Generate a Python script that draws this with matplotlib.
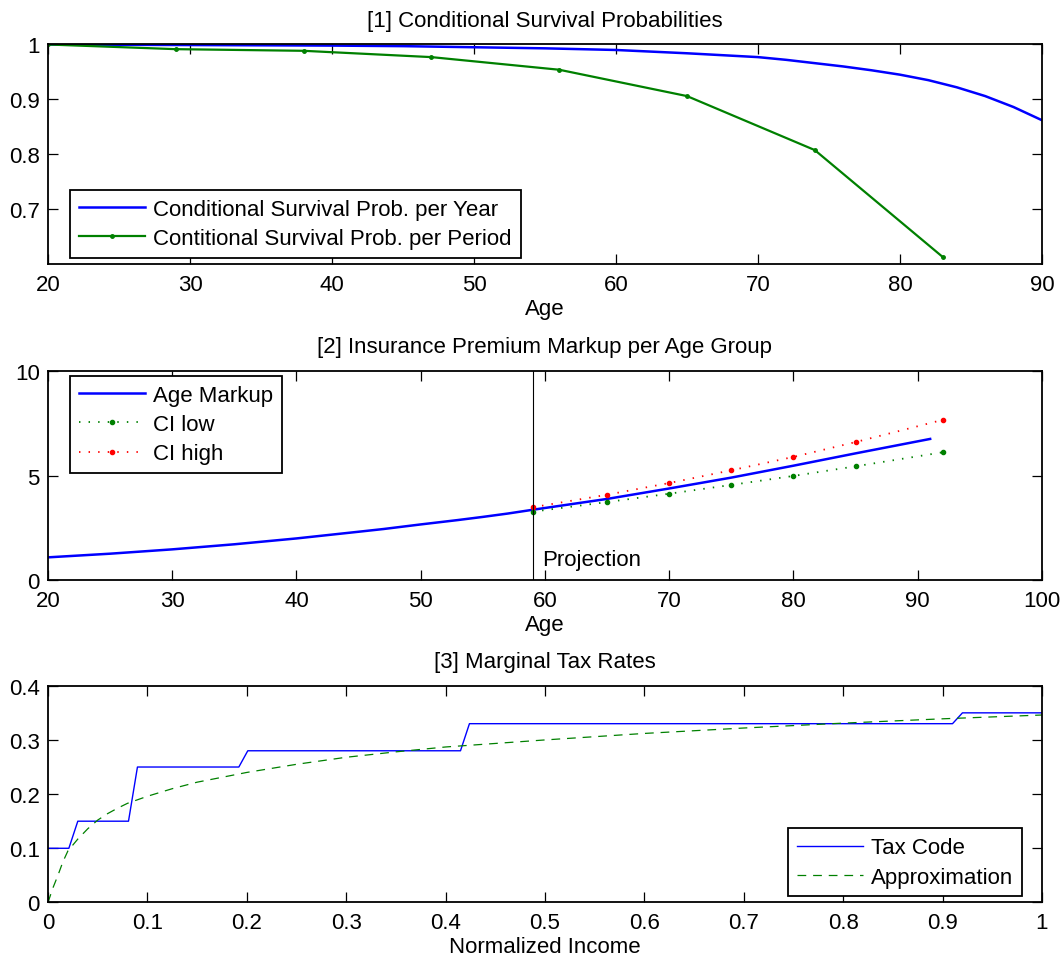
import matplotlib
matplotlib.use("Agg")
import matplotlib.pyplot as plt

# [1] survival probabilities
ages_year = [20, 25, 30, 35, 40, 45, 50, 55, 60, 65, 70, 72, 74, 76, 78, 80,
             82, 84, 86, 88, 90]
surv_year = [1.0, 0.9995, 0.999, 0.9985, 0.998, 0.997, 0.995, 0.993, 0.990,
             0.984, 0.977, 0.972, 0.966, 0.960, 0.953, 0.945, 0.935, 0.922,
             0.906, 0.886, 0.862]
ages_period = [20, 29, 38, 47, 56, 65, 74, 83]
surv_period = [1.0, 0.9915, 0.9885, 0.977, 0.954, 0.906, 0.8076, 0.613]

# [2] premium markup
ages_markup = [20, 25, 30, 35, 40, 45, 47, 50, 53, 55, 57, 59, 65, 70, 75,
               80, 85, 91]
markup = [1.085, 1.26, 1.467, 1.71, 1.99, 2.31, 2.44, 2.66, 2.87, 3.02, 3.18,
          3.36, 3.88, 4.38, 4.90, 5.47, 6.06, 6.75]
ages_ci = [59, 65, 70, 75, 80, 85, 92]
ci_low = [3.27, 3.73, 4.13, 4.55, 4.98, 5.44, 6.11]
ci_high = [3.48, 4.08, 4.64, 5.25, 5.89, 6.60, 7.66]
projection_start = 59

# [3] marginal tax rates
tax_x = [0, 0.021, 0.030, 0.081, 0.090, 0.192, 0.201, 0.415, 0.424, 0.910, 0.920, 1.0]
tax_y = [0.1, 0.1, 0.15, 0.15, 0.25, 0.25, 0.28, 0.28, 0.33, 0.33, 0.35, 0.35]
approx_x = [0, 0.005, 0.01, 0.015, 0.02, 0.03, 0.04, 0.05, 0.06, 0.07, 0.08, 0.1,
            0.125, 0.15, 0.2, 0.25, 0.3, 0.35, 0.4, 0.5, 0.6, 0.7, 0.8, 0.9, 1.0]
approx_y = [0, 0.027, 0.05, 0.075, 0.095, 0.117, 0.136, 0.152, 0.164, 0.174, 0.183,
            0.196, 0.21, 0.222, 0.24, 0.255, 0.268, 0.278, 0.287, 0.300, 0.312,
            0.322, 0.331, 0.339, 0.346]

# ticks
ticks1_x = [20, 30, 40, 50, 60, 70, 80, 90]
ticks1_y = [0.7, 0.8, 0.9, 1.0]
labels1_y = ["0.7", "0.8", "0.9", "1"]
ticks2_x = [20, 30, 40, 50, 60, 70, 80, 90, 100]
ticks2_y = [0, 5, 10]
ticks3_x = [0, 0.1, 0.2, 0.3, 0.4, 0.5, 0.6, 0.7, 0.8, 0.9, 1.0]
labels3_x = ["0", "0.1", "0.2", "0.3", "0.4", "0.5", "0.6", "0.7", "0.8", "0.9", "1"]
ticks3_y = [0, 0.1, 0.2, 0.3, 0.4]
labels3_y = ["0", "0.1", "0.2", "0.3", "0.4"]

plt.rcParams["font.family"] = ["Liberation Sans", "DejaVu Sans"]
plt.rcParams["font.size"] = 16
plt.rcParams["axes.linewidth"] = 1.3

blue = (0, 0, 1)
green = (0, 0.5, 0)
red = (1, 0, 0)

fig = plt.figure(figsize=(10.64, 9.70), dpi=100)
ax1 = fig.add_axes([0.0451, 0.7268, 0.9342, 0.2263])
ax2 = fig.add_axes([0.0451, 0.4010, 0.9342, 0.2155])
ax3 = fig.add_axes([0.0451, 0.0686, 0.9342, 0.2234])


def style(ax):
    ax.tick_params(direction="in", top=True, right=True, length=7, width=0.9)
    ax.tick_params(axis="x", pad=7)
    ax.tick_params(axis="y", pad=6)


def legend(ax, loc, anchor):
    leg = ax.legend(loc=loc, bbox_to_anchor=anchor, borderaxespad=0,
                    fancybox=False, framealpha=1, edgecolor="black",
                    handlelength=3.0, handletextpad=0.35, borderpad=0.4,
                    labelspacing=0.37, fontsize=16)
    leg.get_frame().set_linewidth(1.3)
    return leg


# [1]
ax1.plot(ages_year, surv_year, color=blue, lw=1.8,
         label="Conditional Survival Prob. per Year")
ax1.plot(ages_period, surv_period, ".-", color=green, lw=1.6, ms=5,
         label="Contitional Survival Prob. per Period")
ax1.set_xlim(20, 90)
ax1.set_ylim(0.6, 1.0)
ax1.set_xticks(ticks1_x)
ax1.set_yticks(ticks1_y)
ax1.set_yticklabels(labels1_y)
ax1.set_title("[1] Conditional Survival Probabilities", fontsize=16, pad=13.5)
ax1.set_xlabel("Age", labelpad=2)
style(ax1)
legend(ax1, "lower left", (0.022, 0.027))

# [2]
ax2.plot(ages_markup, markup, color=blue, lw=1.8, label="Age Markup")
ax2.plot(ages_ci, ci_low, marker=".", ms=6, color=green, lw=1.3,
         linestyle=(0, (0.8, 4.5)), label="CI low")
ax2.plot(ages_ci, ci_high, marker=".", ms=6, color=red, lw=1.3,
         linestyle=(0, (0.8, 4.5)), label="CI high")
ax2.axvline(projection_start, color="black", lw=0.8)
ax2.text(projection_start + 0.8, 1.0, "Projection", va="center", ha="left")
ax2.set_xlim(20, 100)
ax2.set_ylim(0, 10)
ax2.set_xticks(ticks2_x)
ax2.set_yticks(ticks2_y)
ax2.set_title("[2] Insurance Premium Markup per Age Group", fontsize=16, pad=13.5)
ax2.set_xlabel("Age", labelpad=2)
style(ax2)
legend(ax2, "upper left", (0.022, 0.976))

# [3]
ax3.plot(tax_x, tax_y, color=blue, lw=1.0, label="Tax Code")
ax3.plot(approx_x, approx_y, color=green, lw=0.9, linestyle=(0, (7, 5.5)),
         label="Approximation")
ax3.set_xlim(0, 1)
ax3.set_ylim(0, 0.4)
ax3.set_xticks(ticks3_x)
ax3.set_xticklabels(labels3_x)
ax3.set_yticks(ticks3_y)
ax3.set_yticklabels(labels3_y)
ax3.set_title("[3] Marginal Tax Rates", fontsize=16, pad=13.5)
ax3.set_xlabel("Normalized Income", labelpad=2)
style(ax3)
legend(ax3, "lower right", (0.980, 0.0275))

fig.savefig("out.png", dpi=100)
